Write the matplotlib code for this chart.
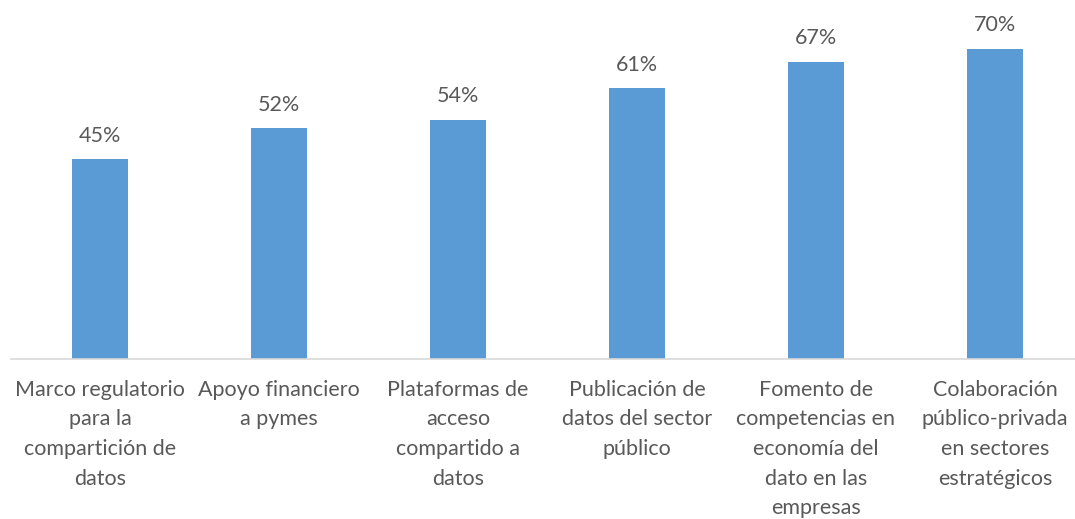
import matplotlib
matplotlib.use("Agg")
import matplotlib.pyplot as plt

categories = [
    "Marco regulatorio\npara la\ncompartición de\ndatos",
    "Apoyo financiero\na pymes",
    "Plataformas de\nacceso\ncompartido a\ndatos",
    "Publicación de\ndatos del sector\npúblico",
    "Fomento de\ncompetencias en\neconomía del\ndato en las\nempresas",
    "Colaboración\npúblico-privada\nen sectores\nestratégicos",
]
values = [45, 52, 54, 61, 67, 70]
value_labels = ["45%", "52%", "54%", "61%", "67%", "70%"]

plt.rcParams['font.family'] = ['Lato', 'DejaVu Sans']
W, H = 1075, 519
fig = plt.figure(figsize=(W / 100, H / 100), dpi=100)
ax = fig.add_axes([10.5 / W, (H - 359) / H, 1074 / W, 357 / H])

x = list(range(len(values)))
ax.bar(x, values, width=0.313, color="#5B9BD5", zorder=2)
ax.set_xlim(-0.5, len(values) - 0.5)
ax.set_ylim(0, 80.5)

txt = "#595959"
for xi, v, lab in zip(x, values, value_labels):
    ax.annotate(lab, (xi, v), xytext=(0, 10), textcoords="offset points",
                ha="center", va="bottom", fontsize=15.5, color=txt)

ax.set_xticks(x)
ax.set_xticklabels(categories, fontsize=15.5, color=txt, linespacing=1.6, va="top")
ax.tick_params(axis="x", length=0, pad=15)
ax.set_yticks([])
for s in ["top", "right", "left"]:
    ax.spines[s].set_visible(False)
ax.spines["bottom"].set_color("#D9D9D9")
ax.spines["bottom"].set_linewidth(1.2)

fig.savefig("out.png", dpi=100)
